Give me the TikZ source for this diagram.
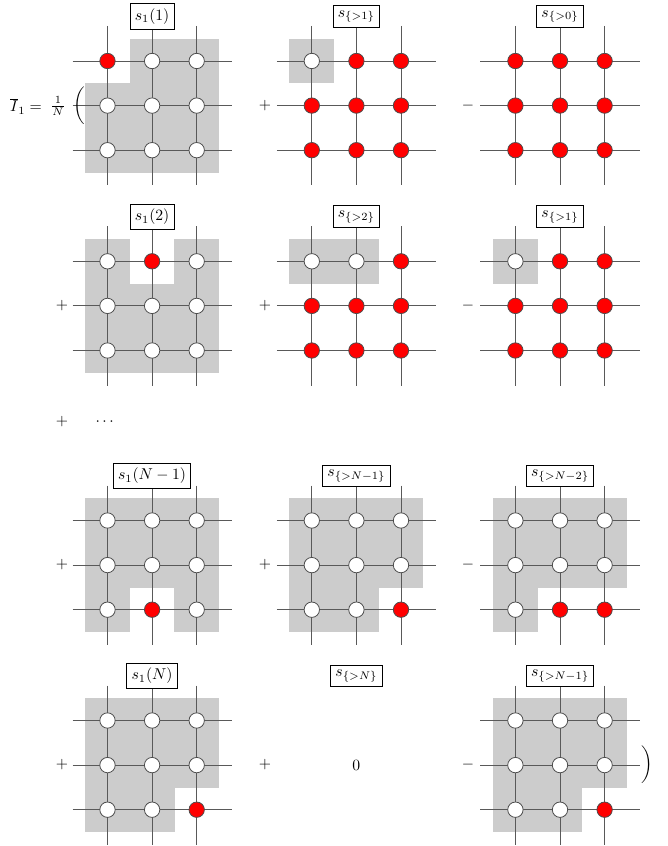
\documentclass[tikz,border=0pt]{standalone}
\usepackage{amsmath}
\pgfdeclarelayer{bg}\pgfdeclarelayer{ln}\pgfsetlayers{bg,ln,main}
\tikzset{
 x=0.637pt, y=-0.637pt,
 gl/.style={draw=black!65, line width=0.6pt},
 dot/.style={circle, draw=black!70, line width=0.5pt, minimum size=9.8pt, inner sep=0pt},
 dotw/.style={dot, fill=white},
 dotr/.style={dot, fill=red},
 cellw/.style={fill=black!20},
 cellr/.style={},
 lab/.style={draw, fill=white, line width=0.6pt, inner sep=3pt},
 op/.style={inner sep=0pt},
}
\newcommand\mygrid[5]{%
 \foreach \c [count=\i from 0] in {#4} {
   \pgfmathtruncatemacro\rr{int(\i/3)}
   \pgfmathtruncatemacro\cc{mod(\i,3)}
   \node[dot\c] (#1-\rr-\cc) at ({#2+44.6*\cc},{#3+44.6*\rr}) {};
   \begin{pgfonlayer}{bg}
   \path[cell\c] ({#2+44.6*\cc-22.4},{#3+44.6*\rr-22.4}) rectangle ++(44.8,44.8);
   \end{pgfonlayer}
 }
 \node[lab] (#1-l) at ({#2+44.6},{#3-44.5}) {$#5$};
 \foreach \k in {0,1,2} {
   \coordinate (#1-w\k) at ({#2-35},{#3+44.6*\k});
   \coordinate (#1-e\k) at ({#2+89.2+35},{#3+44.6*\k});
   \coordinate (#1-n\k) at ({#2+44.6*\k},{#3-35});
   \coordinate (#1-s\k) at ({#2+44.6*\k},{#3+89.2+35});
 }
 \begin{pgfonlayer}{ln}
 \foreach \k in {0,1,2}{
  \draw[gl] (#1-w\k) -- (#1-e\k);
 }
 \draw[gl] (#1-n0) -- (#1-s0);
 \draw[gl] (#1-l) -- (#1-s1);
 \draw[gl] (#1-n2) -- (#1-s2);
 \end{pgfonlayer}
}
\begin{document}
\begin{tikzpicture}
\useasboundingbox (0,0) rectangle (667,846);
% row 1
\mygrid{a1}{107.5}{61}{r,w,w,w,w,w,w,w,w}{s_1(1)}
\mygrid{a2}{311.8}{61}{w,r,r,r,r,r,r,r,r}{s_{\{>1\}}}
\mygrid{a3}{515.4}{61}{r,r,r,r,r,r,r,r,r}{s_{\{>0\}}}
\node[op] (eq) at (26,106) {$\overline{I}_1 =$};
\node[op] (fr) at (58,106) {$\frac{1}{N}$};
\node[op] (lp) at (79,106) {$\bigg($};
\node[op] (a2op) at (265,106) {$+$};
\node[op] (a3op) at (468,106) {$-$};
% row 2
\mygrid{b1}{107.5}{261.3}{w,r,w,w,w,w,w,w,w}{s_1(2)}
\mygrid{b2}{311.8}{261.3}{w,w,r,r,r,r,r,r,r}{s_{\{>2\}}}
\mygrid{b3}{515.4}{261.3}{w,r,r,r,r,r,r,r,r}{s_{\{>1\}}}
\node[op] (b1op) at (62,306) {$+$};
\node[op] (b2op) at (265,306) {$+$};
\node[op] (b3op) at (468,306) {$-$};
% dots
\node[op] (dp) at (62,422) {$+$};
\node[op] (dd) at (106,422) {$\cdots$};
% row 3
\mygrid{c1}{107.5}{520.5}{w,w,w,w,w,w,w,r,w}{s_1(N-1)}
\mygrid{c2}{311.8}{520.5}{w,w,w,w,w,w,w,w,r}{s_{\{>N-1\}}}
\mygrid{c3}{515.4}{520.5}{w,w,w,w,w,w,w,r,r}{s_{\{>N-2\}}}
\node[op] (c1op) at (62,565) {$+$};
\node[op] (c2op) at (265,565) {$+$};
\node[op] (c3op) at (468,565) {$-$};
% row 4
\mygrid{d1}{107.5}{720.5}{w,w,w,w,w,w,w,w,r}{s_1(N)}
\node[lab] (d2-l) at (356.4,676) {$s_{\{>N\}}$};
\node[op] (d2z) at (356.4,765) {$0$};
\mygrid{d3}{515.4}{720.5}{w,w,w,w,w,w,w,w,r}{s_{\{>N-1\}}}
\node[op] (d1op) at (62,765) {$+$};
\node[op] (d2op) at (265,765) {$+$};
\node[op] (d3op) at (468,765) {$-$};
\node[op] (rp) at (647,765) {$\bigg)$};
\end{tikzpicture}
\end{document}
